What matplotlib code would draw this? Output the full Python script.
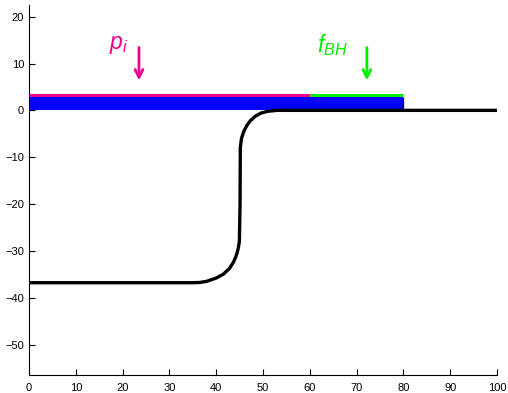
import matplotlib
matplotlib.use("Agg")
import matplotlib.pyplot as plt
import numpy as np

plt.rcParams['font.family'] = ['Liberation Sans', 'DejaVu Sans']
plt.rcParams['mathtext.fontset'] = 'custom'
plt.rcParams['mathtext.it'] = 'Liberation Sans:italic'
plt.rcParams['mathtext.rm'] = 'Liberation Sans'

# curve data
curve_x = [0, 35, 36.5, 38, 40, 41.5, 42.8, 43.7, 44.3, 44.7, 44.95, 45.1, 45.15, 45.4, 45.9,
           46.5, 47.3, 48.3, 49.5, 51, 53, 55, 100]
curve_y = [-36.8, -36.8, -36.75, -36.5, -35.8, -35.0, -33.8, -32.4, -31.0, -29.5, -28.0, -20.0,
           -8.0, -6.0, -4.5, -3.3, -2.2, -1.3, -0.6, -0.2, 0.0, 0.0, 0.0]

bar_start, bar_end, bar_height = 0, 80, 2.9
pi_range = [0, 60]
fbh_range = [60, 80]
line_level = 3.2
pi_arrow_x, fbh_arrow_x = 23.5, 72.2
arrow_top, arrow_bottom = 14, 5.8

pink = '#f00090'
green = '#00ee00'

fig = plt.figure(figsize=(5.08, 3.93), dpi=100)
ax = fig.add_axes([29/508, 1-374.5/393, (497-29)/508, (374.5-4.5)/393])

ax.bar([bar_start], [bar_height], width=bar_end - bar_start, align='edge', color='#0000ff',
       linewidth=0, zorder=2)
ax.vlines(bar_end, 0, bar_height, color='#000040', lw=0.9, zorder=2.5)
ax.plot(pi_range, [line_level, line_level], color=pink, lw=2.2, solid_capstyle='butt', zorder=3)
ax.plot(fbh_range, [line_level, line_level], color=green, lw=2.2, solid_capstyle='butt', zorder=3)
ax.plot(curve_x, curve_y, color='black', lw=2.4, zorder=4, solid_capstyle='butt', solid_joinstyle='round')

ax.annotate('', xy=(pi_arrow_x, arrow_bottom), xytext=(pi_arrow_x, arrow_top),
            arrowprops=dict(arrowstyle='->', color=pink, lw=2, mutation_scale=14))
ax.annotate('', xy=(fbh_arrow_x, arrow_bottom), xytext=(fbh_arrow_x, arrow_top),
            arrowprops=dict(arrowstyle='->', color=green, lw=2, mutation_scale=14))
ax.text(17, 14, r'$p_i$', color=pink, fontsize=16.5, ha='left', va='center')
ax.text(61.5, 14, r'$f_{BH}$', color=green, fontsize=16.5, ha='left', va='center')

ax.set_xlim(0, 100)
ax.set_ylim(-56.4, 22.6)
ax.set_xticks(np.arange(0, 101, 10))
ax.set_yticks(np.arange(-50, 21, 10))
ax.spines['top'].set_visible(False)
ax.spines['right'].set_visible(False)
ax.tick_params(direction='in', length=4, labelsize=8, width=0.8)
ax.tick_params(axis='x', pad=6)
ax.set_facecolor('white')
fig.savefig('out.png', dpi=100)
